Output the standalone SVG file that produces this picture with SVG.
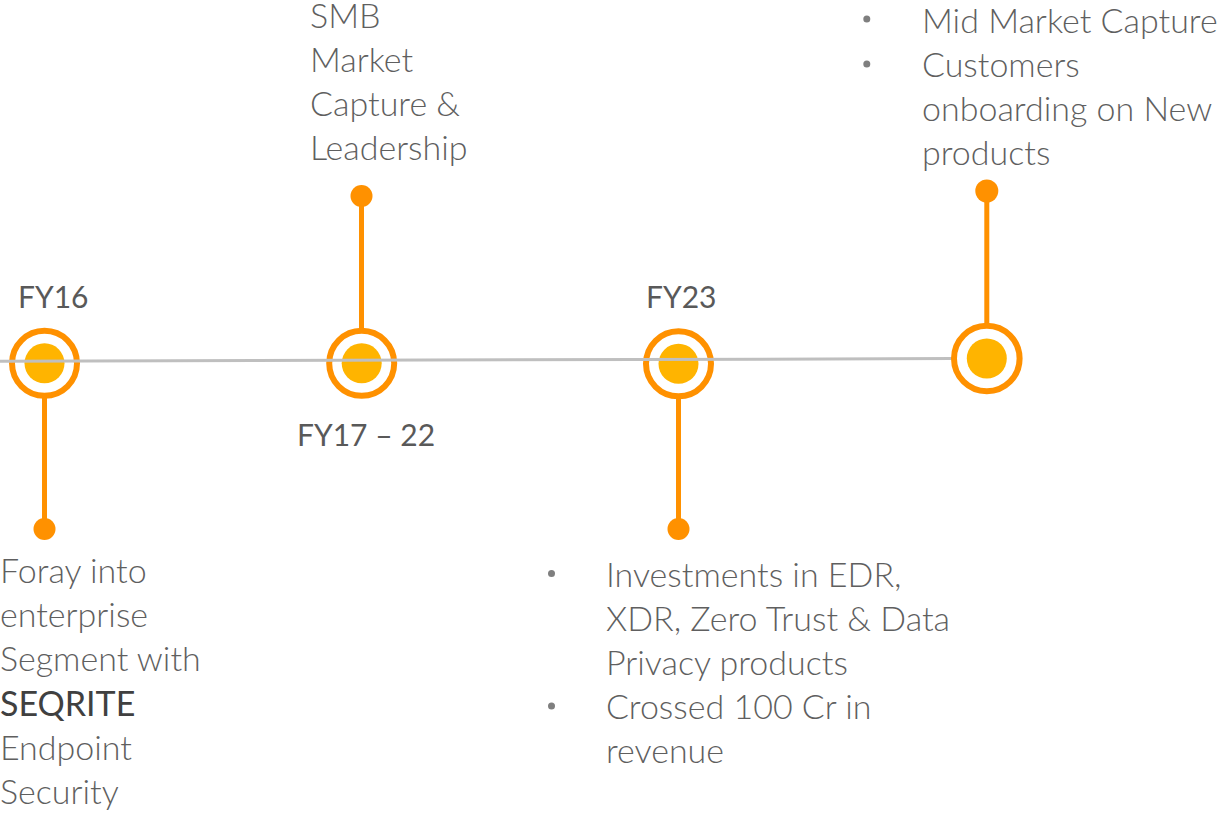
<svg xmlns="http://www.w3.org/2000/svg" width="1224" height="813" viewBox="0 0 1224 813">
<style>
.ring{fill:#ffffff;stroke:#FF9100;stroke-width:6}
.core{fill:#FFB400}
.stem{stroke:#FF9100;stroke-width:5;fill:none}
.dot{fill:#FF9100}
.axis{stroke:#BFBFBF;stroke-width:3;fill:none}
.lbl{font-family:Lato,"Liberation Sans",sans-serif;font-size:30px;fill:#595959;font-weight:400}
.txt{font-family:Lato,"Liberation Sans",sans-serif;font-size:34px;fill:#5f5f5f;font-weight:300}
.b{font-weight:400;fill:#404040}
.bul{fill:#7f7f7f}
</style>
<rect width="1224" height="813" fill="#ffffff"/>
<g id="connectors">
<line class="stem" x1="44.5" y1="396" x2="44.5" y2="529"/>
<line class="stem" x1="361.5" y1="196" x2="361.5" y2="330"/>
<line class="stem" x1="678.5" y1="397" x2="678.5" y2="529"/>
<line class="stem" x1="986.8" y1="191" x2="986.8" y2="325"/>
<circle class="dot" cx="44.5" cy="529" r="11"/>
<circle class="dot" cx="361.5" cy="196" r="11"/>
<circle class="dot" cx="678.5" cy="529" r="11"/>
<circle class="dot" cx="986.8" cy="191" r="11.5"/>
</g>
<g id="node-fy16">
<circle class="ring" cx="44.5" cy="363.3" r="32.5"/>
<circle class="core" cx="44.5" cy="363.3" r="20"/>
<text class="lbl" x="18" y="308">FY16</text>
<g class="txt">
<text x="0" y="583">Foray into</text>
<text x="0" y="627">enterprise</text>
<text x="0" y="671">Segment with</text>
<text x="0" y="716" class="b">SEQRITE</text>
<text x="0" y="760">Endpoint</text>
<text x="0" y="804">Security</text>
</g>
</g>
<g id="node-fy17-22">
<circle class="ring" cx="361.7" cy="363.3" r="32.5"/>
<circle class="core" cx="361.7" cy="363.3" r="20"/>
<text class="lbl" x="297" y="446">FY17 – 22</text>
<g class="txt">
<text x="310" y="28">SMB</text>
<text x="310" y="72">Market</text>
<text x="310" y="116">Capture &amp;</text>
<text x="310" y="160">Leadership</text>
</g>
</g>
<g id="node-fy23">
<circle class="ring" cx="678.5" cy="363.8" r="32.5"/>
<circle class="core" cx="678.5" cy="363.8" r="20"/>
<text class="lbl" x="646" y="308">FY23</text>
<circle class="bul" cx="551.5" cy="573.5" r="3.5"/>
<circle class="bul" cx="551.5" cy="706" r="3.5"/>
<g class="txt">
<text x="606" y="587">Investments in EDR,</text>
<text x="606" y="631">XDR, Zero Trust &amp; Data</text>
<text x="606" y="675">Privacy products</text>
<text x="606" y="719">Crossed 100 Cr in</text>
<text x="606" y="763">revenue</text>
</g>
</g>
<line class="axis" x1="0" y1="361.3" x2="952" y2="358.6"/>
<g id="node-future">
<circle class="ring" cx="986.8" cy="358.5" r="32.8"/>
<circle class="core" cx="986.8" cy="358.5" r="20"/>
<circle class="bul" cx="866.8" cy="19" r="3.5"/>
<circle class="bul" cx="866.8" cy="64" r="3.5"/>
<g class="txt">
<text x="922" y="33">Mid Market Capture</text>
<text x="922" y="77">Customers</text>
<text x="922" y="121">onboarding on New</text>
<text x="922" y="165">products</text>
</g>
</g>
</svg>
